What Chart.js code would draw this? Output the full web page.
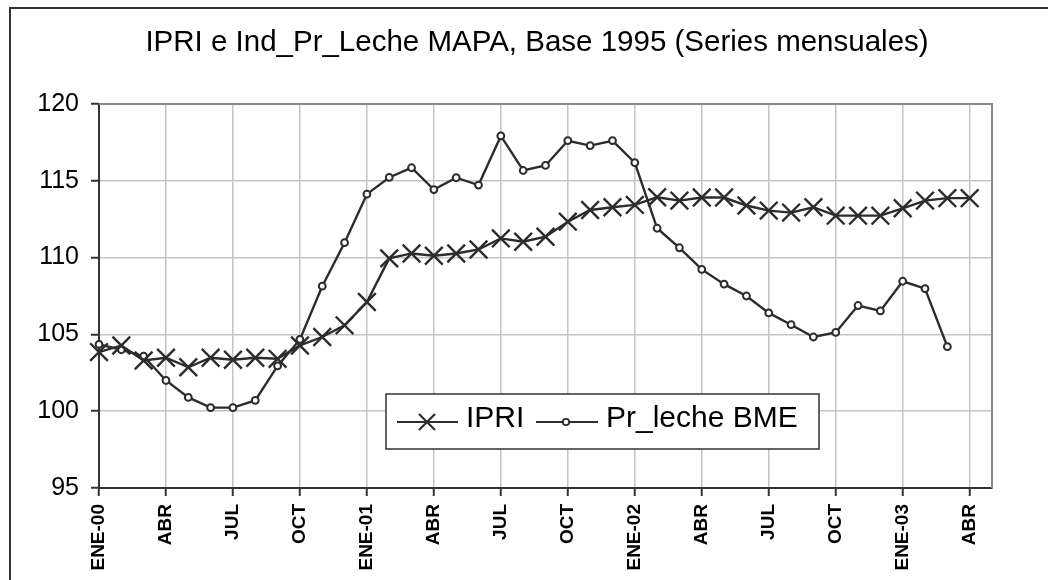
<!DOCTYPE html>
<html>
<head>
<meta charset="utf-8">
<script src="https://cdn.jsdelivr.net/npm/chart.js@4/dist/chart.umd.min.js"></script>
<style>
  html, body { margin: 0; padding: 0; background: #fff; }
  #wrap { width: 1048px; height: 580px; position: relative; }
</style>
</head>
<body>
<div id="wrap"><canvas id="leche" width="1048" height="580"></canvas></div>
<script>
// months from ENE-00 to MAY-03 (the last slot has no label)
const months = [
  'ENE-00','FEB','MAR','ABR','MAY','JUN','JUL','AGO','SEP','OCT','NOV','DIC',
  'ENE-01','FEB','MAR','ABR','MAY','JUN','JUL','AGO','SEP','OCT','NOV','DIC',
  'ENE-02','FEB','MAR','ABR','MAY','JUN','JUL','AGO','SEP','OCT','NOV','DIC',
  'ENE-03','FEB','MAR','ABR',''
];

const ipri = [
  103.85, 104.28, 103.3, 103.48, 102.86, 103.48, 103.35, 103.48, 103.41, 104.28, 104.83, 105.59,
  107.11, 109.95, 110.27, 110.12, 110.27, 110.53, 111.25, 111.03, 111.36, 112.34, 113.1, 113.28,
  113.43, 113.93, 113.71, 113.91, 113.91, 113.39, 113.06, 112.93, 113.28, 112.73, 112.73, 112.73,
  113.21, 113.71, 113.87, 113.87
];

const prLeche = [
  104.35, 104.0, 103.58, 102.0, 100.9, 100.23, 100.23, 100.7, 102.95, 104.67, 108.14, 110.97,
  114.13, 115.22, 115.85, 114.43, 115.2, 114.72, 117.92, 115.67, 116.0, 117.61, 117.29, 117.61,
  116.18, 111.91, 110.64, 109.23, 108.27, 107.5, 106.4, 105.63, 104.83, 105.13, 106.88, 106.53,
  108.46, 107.98, 104.2
];

const yMin = 95, yMax = 120, yStep = 5;
const seriesNames = ['IPRI', 'Pr_leche BME'];
const titleText = 'IPRI e Ind_Pr_Leche MAPA, Base 1995 (Series mensuales)';

const lineColor = '#2c2c2c';
const gridColor = '#c4c4c4';
const fontName = 'Liberation Sans, Arial, sans-serif';

// outer frame + grey top/right border of the plot
const framePlugin = {
  id: 'frame',
  beforeDraw(chart) {
    const ctx = chart.ctx;
    ctx.save();
    ctx.strokeStyle = '#333';
    ctx.lineWidth = 2;
    ctx.beginPath();
    ctx.moveTo(10, 580);
    ctx.lineTo(10, 8);
    ctx.lineTo(1048, 8);
    ctx.stroke();
    ctx.restore();
  },
  beforeDatasetsDraw(chart) {
    const a = chart.chartArea;
    const ctx = chart.ctx;
    ctx.save();
    ctx.strokeStyle = '#8a8a8a';
    ctx.lineWidth = 2;
    ctx.beginPath();
    ctx.moveTo(a.left, a.top);
    ctx.lineTo(a.right, a.top);
    ctx.lineTo(a.right, a.bottom);
    ctx.stroke();
    ctx.restore();
  }
};

// legend box sitting inside the plot
const boxLegend = {
  id: 'boxLegend',
  afterDatasetsDraw(chart) {
    const ctx = chart.ctx;
    ctx.save();
    ctx.fillStyle = '#fff';
    ctx.fillRect(386, 394, 433, 55);
    ctx.strokeStyle = '#333';
    ctx.lineWidth = 1.5;
    ctx.strokeRect(386, 394, 433, 55);

    const ly = 422;
    ctx.strokeStyle = lineColor;
    ctx.lineWidth = 2.2;
    // IPRI sample
    ctx.beginPath();
    ctx.moveTo(397, ly); ctx.lineTo(458, ly);
    ctx.moveTo(427 - 8, ly - 8); ctx.lineTo(427 + 8, ly + 8);
    ctx.moveTo(427 - 8, ly + 8); ctx.lineTo(427 + 8, ly - 8);
    ctx.stroke();
    // leche sample
    ctx.beginPath();
    ctx.moveTo(536, ly); ctx.lineTo(598, ly);
    ctx.stroke();
    ctx.beginPath();
    ctx.arc(566, ly, 3.2, 0, Math.PI * 2);
    ctx.fillStyle = '#fff';
    ctx.fill();
    ctx.lineWidth = 1.8;
    ctx.stroke();

    ctx.fillStyle = '#000';
    ctx.font = '30px ' + fontName;
    ctx.textBaseline = 'middle';
    ctx.textAlign = 'left';
    ctx.fillText(seriesNames[0], 466, 419);
    ctx.fillText(seriesNames[1], 606, 419);
    ctx.restore();
  }
};

const ctx = document.getElementById('leche').getContext('2d');
new Chart(ctx, {
  type: 'line',
  data: {
    labels: months,
    datasets: [
      {
        label: seriesNames[0],
        data: ipri,
        borderColor: lineColor,
        borderWidth: 2.4,
        pointStyle: 'crossRot',
        pointRadius: 12.5,
        pointBorderWidth: 2.4,
        pointBorderColor: lineColor,
        tension: 0,
        clip: false
      },
      {
        label: seriesNames[1],
        data: prLeche,
        borderColor: lineColor,
        borderWidth: 2.4,
        pointStyle: 'circle',
        pointRadius: 3.4,
        pointBorderWidth: 2,
        pointBorderColor: lineColor,
        pointBackgroundColor: '#fff',
        tension: 0,
        clip: false
      }
    ]
  },
  options: {
    responsive: false,
    animation: false,
    devicePixelRatio: 1,
    layout: { padding: { left: 26, right: 0, top: 0, bottom: 0 } },
    plugins: {
      legend: { display: false },
      tooltip: { enabled: false },
      title: {
        display: true,
        text: titleText,
        color: '#000',
        font: { family: fontName, size: 29.5, weight: 'normal' },
        padding: { top: 25, bottom: 43.6 }
      }
    },
    scales: {
      x: {
        type: 'category',
        offset: false,
        grid: {
          color: c => (c.index % 3 === 0 ? gridColor : 'rgba(0,0,0,0)'),
          tickColor: c => (c.index % 3 === 0 ? '#333' : 'rgba(0,0,0,0)'),
          tickLength: 8,
          lineWidth: 1.5,
          tickWidth: 2
        },
        border: { color: '#333', width: 2 },
        ticks: {
          autoSkip: false,
          minRotation: 90,
          maxRotation: 90,
          padding: 8,
          color: '#000',
          font: { family: fontName, size: 19, weight: 'bold' },
          callback: function (v, i) { return i % 3 === 0 ? months[i] : ''; }
        },
        afterFit: s => { s.height = 92; }
      },
      y: {
        min: yMin,
        max: yMax,
        grid: { color: gridColor, lineWidth: 1.5, tickLength: 8, tickColor: '#333', tickWidth: 2 },
        border: { color: '#333', width: 2 },
        ticks: {
          stepSize: yStep,
          padding: 12,
          color: '#000',
          font: { family: fontName, size: 25 }
        },
        afterFit: s => { s.width = 73; }
      },
      spare: {
        position: 'right',
        display: true,
        grid: { display: false },
        border: { display: false },
        ticks: { display: false },
        afterFit: s => { s.width = 56; }
      }
    }
  },
  plugins: [framePlugin, boxLegend]
});
</script>
</body>
</html>
